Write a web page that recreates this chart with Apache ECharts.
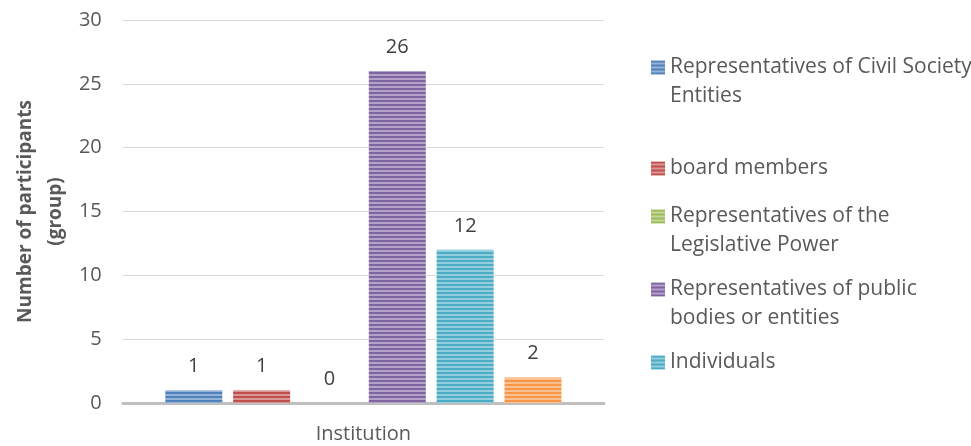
<!DOCTYPE html>
<html>
<head>
<meta charset="utf-8">
<script src="https://cdn.jsdelivr.net/npm/echarts@6/dist/echarts.min.js"></script>
<style>
  html, body { margin: 0; padding: 0; background: #fff; }
  #chart { width: 971px; height: 446px; }
</style>
</head>
<body>
<div id="chart"></div>
<script>
// data
const categories = ['Institution']
const groupNames = [
  'Representatives of Civil Society Entities',
  'board members',
  'Representatives of the Legislative Power',
  'Representatives of public bodies or entities',
  'Individuals',
  'Others'
]
const groupValues = [1, 1, 0, 26, 12, 2]
const groupColors = ['#4f81bd', '#c0504d', '#9bbb59', '#8064a2', '#4bacc6', '#f79646']
const legendLabels = [
  'Representatives of Civil Society\nEntities',
  'board members',
  'Representatives of the\nLegislative Power',
  'Representatives of public\nbodies or entities',
  'Individuals'
]

const FONT = 'Open Sans'

// horizontal stripes like the office "striped" fill
const stripes = (hex) => {
  const c = document.createElement('canvas')
  c.width = 4
  c.height = 4
  const ctx = c.getContext('2d')
  ctx.fillStyle = hex
  ctx.fillRect(0, 0, 4, 4)
  ctx.fillStyle = 'rgba(255,255,255,0.4)'
  ctx.fillRect(0, 2, 4, 2)
  return { image: c, repeat: 'repeat' }
}

const chart = echarts.init(document.getElementById('chart'))

// one legend per entry so the uneven spacing can be kept
const legendTops = [48, 149, 197, 270, 343]
const legends = legendLabels.map((label, i) => {
  const twoLines = label.indexOf('\n') >= 0
  return {
    data: [groupNames[i]],
    left: 646,
    top: legendTops[i],
    orient: 'vertical',
    itemWidth: 14,
    itemHeight: twoLines ? 43 : 14,
    icon: twoLines ? 'path://M0,0H14V14H0Z M0,43h0.01' : 'rect',
    selectedMode: false,
    formatter: () => label,
    textStyle: {
      fontFamily: FONT,
      fontSize: 21,
      color: '#595959',
      lineHeight: 29
    }
  }
})

const option = {
  animation: false,
  textStyle: { fontFamily: FONT },
  grid: { left: 118, right: 367, top: 20, bottom: 43 },
  legend: legends,
  xAxis: {
    type: 'category',
    data: categories,
    axisLine: { lineStyle: { color: '#bfbfbf', width: 3 } },
    axisTick: { show: false },
    axisLabel: { fontSize: 20, color: '#595959', margin: 21, fontFamily: FONT }
  },
  yAxis: {
    type: 'value',
    min: 0,
    max: 30,
    interval: 5,
    name: 'Number of participants\n(group)',
    nameLocation: 'middle',
    nameGap: 52,
    nameTextStyle: { fontFamily: FONT, fontSize: 19, fontWeight: 'bold', color: '#595959', lineHeight: 30 },
    axisLine: { show: false },
    axisTick: { show: false },
    axisLabel: { fontSize: 20, color: '#595959', margin: 21, fontFamily: FONT },
    splitLine: { lineStyle: { color: '#d9d9d9', width: 1 } }
  },
  series: groupNames.map((name, i) => ({
    name,
    type: 'bar',
    data: [groupValues[i]],
    barWidth: 57,
    barGap: '19%',
    itemStyle: { color: stripes(groupColors[i]) },
    label: {
      show: true,
      position: 'top',
      distance: 14,
      fontFamily: FONT,
      fontSize: 20,
      color: '#404040'
    }
  }))
}

chart.setOption(option)
</script>
</body>
</html>
